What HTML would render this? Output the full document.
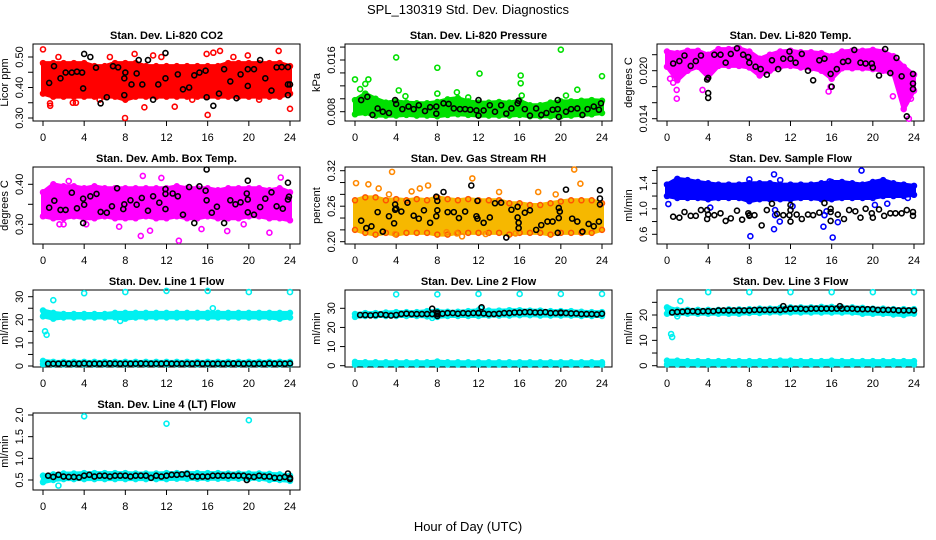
<!DOCTYPE html>
<html><head><meta charset="utf-8">
<style>
html,body{margin:0;padding:0;background:#fff;}
svg{display:block;font-family:"Liberation Sans",sans-serif;}
</style></head>
<body>
<svg id="chart" width="936" height="540" viewBox="0 0 936 540">
<text x="468" y="14" text-anchor="middle" font-size="13">SPL_130319  Std. Dev. Diagnostics</text>
<text x="468" y="531" text-anchor="middle" font-size="13">Hour of Day (UTC)</text>
</svg>
<script>
// ---------- DATA ----------
const bandHours=[0,1,2,3,4,5,6,7,8,9,10,11,12,13,14,15,16,17,18,19,20,21,22,23,24];
const xTicks=[0,4,8,12,16,20,24];
const flowHours=[0.5,1,1.5,2,2.5,3,3.5,4,4.5,5,5.5,6,6.5,7,7.5,8,8.5,9,9.5,10,10.5,11,11.5,12,12.5,13,13.5,14,14.5,15,15.5,16,16.5,17,17.5,18,18.5,19,19.5,20,20.5,21,21.5,22,22.5,23,23.5,24];

// P1 CO2
const co2Lo=[0.38,0.37,0.37,0.37,0.37,0.37,0.37,0.37,0.36,0.37,0.37,0.37,0.37,0.37,0.37,0.37,0.37,0.37,0.37,0.37,0.37,0.37,0.37,0.37,0.38];
const co2Hi=[0.48,0.48,0.48,0.48,0.48,0.47,0.47,0.48,0.48,0.48,0.47,0.47,0.47,0.47,0.47,0.47,0.47,0.47,0.48,0.48,0.48,0.48,0.48,0.48,0.47];
const co2OutH=[0,0.68,0.7,2.9,9.85,12.8,7.97,16.55,17.2,16,22.9,24,19.9,15.9,10.7,8.9,3.2,5.5,14.5,21,1.5,11.5,18.5,6.5];
const co2OutV=[0.525,0.348,0.34,0.35,0.335,0.337,0.30,0.514,0.52,0.31,0.52,0.33,0.505,0.51,0.505,0.51,0.35,0.36,0.36,0.36,0.50,0.50,0.50,0.50];
const co2BlkH=[0.6,1.07,1.7,2.2,2.8,3.3,3.8,3.9,4.0,4.6,5.15,5.6,6.2,6.8,7.3,7.9,7.9,8.0,8.6,9.1,9.3,9.65,10.2,10.7,11.2,11.9,11.9,13.1,13.6,14.2,14.7,15.2,15.8,15.9,16.55,17.1,17.6,18.2,18.8,19.2,19.9,19.9,20.5,21.1,21.6,22.2,22.7,23.2,23.8,23.8,24,23.8];
const co2BlkV=[0.415,0.47,0.43,0.449,0.449,0.452,0.449,0.397,0.51,0.50,0.465,0.348,0.368,0.47,0.466,0.43,0.375,0.449,0.41,0.446,0.49,0.41,0.49,0.36,0.41,0.513,0.43,0.443,0.394,0.40,0.44,0.449,0.455,0.368,0.34,0.38,0.46,0.42,0.365,0.443,0.46,0.405,0.46,0.49,0.43,0.39,0.466,0.467,0.467,0.41,0.41,0.375];

// P2 Pressure
const presLo=[0.0076,0.0078,0.0074,0.0074,0.0074,0.0075,0.0074,0.0074,0.0073,0.0075,0.0076,0.0075,0.0074,0.0074,0.0074,0.0074,0.0075,0.0073,0.0073,0.0073,0.0073,0.0074,0.0075,0.0076,0.0078];
const presHi=[0.0098,0.0108,0.0100,0.0094,0.0096,0.0094,0.0093,0.0093,0.0095,0.0099,0.0101,0.0096,0.0094,0.0094,0.0095,0.0094,0.0097,0.0090,0.0090,0.0094,0.0096,0.0096,0.0097,0.0098,0.0097];
const presOutH=[0,0.5,1.0,1.3,4.0,4.25,4.9,8.0,8.0,12.1,16.1,16.1,16.2,20,20.5,21.6,24,9.9,11.0];
const presOutV=[0.0130,0.0115,0.0123,0.0130,0.0164,0.0113,0.0104,0.0148,0.0108,0.0139,0.0136,0.0124,0.0105,0.0176,0.0105,0.0114,0.0135,0.0110,0.0102];
const presBlkH=[0.6,1.2,1.7,2.2,2.7,3.3,3.9,4.0,4.6,5.2,5.7,6.2,6.8,7.3,7.9,7.9,8.6,9.1,9.6,10.2,10.7,11.2,11.8,12,12,12.5,13.1,13.6,14.2,14.7,15.2,15.8,15.9,16.5,17.0,17.6,18.1,18.6,19.2,19.7,19.7,19.8,20.5,21.0,21.6,22.1,22.6,23.2,23.7,23.9];
const presBlkV=[0.0098,0.0103,0.0075,0.0085,0.0080,0.0078,0.0098,0.0092,0.0084,0.0088,0.0084,0.0090,0.0081,0.0087,0.0088,0.0077,0.0093,0.0092,0.0085,0.0084,0.0084,0.0083,0.0082,0.0098,0.0074,0.0082,0.0090,0.0080,0.0090,0.0077,0.0085,0.0093,0.0097,0.0084,0.0074,0.0085,0.0075,0.0078,0.0083,0.0098,0.0084,0.0072,0.0080,0.0084,0.0085,0.0075,0.0084,0.0088,0.0083,0.0093];

// P3 Li-820 Temp
const tempLo=[0.0205,0.0188,0.0200,0.0205,0.0192,0.0206,0.0206,0.0206,0.0204,0.0194,0.0200,0.0205,0.0206,0.0204,0.0203,0.0200,0.0190,0.0203,0.0203,0.0203,0.0202,0.0200,0.0196,0.0152,0.0175];
const tempHi=[0.0224,0.0222,0.0225,0.0225,0.0220,0.0227,0.0227,0.0228,0.0224,0.0215,0.0220,0.0224,0.0225,0.0223,0.0223,0.0222,0.0218,0.0224,0.0225,0.0225,0.0226,0.0224,0.0218,0.0205,0.0195];
const tempOutH=[0.94,0.95,3.45,15.7,15.9,21.95,23.5,23.2,23.7,0.3,0.6];
const tempOutV=[0.0176,0.0165,0.0176,0.0174,0.0180,0.0168,0.0140,0.0160,0.0165,0.0190,0.0185];
const tempBlkH=[0.6,1.2,1.7,2.3,2.8,3.3,3.9,4.0,4.0,4.0,4.6,5.2,5.7,6.2,6.8,7.4,7.9,8.0,8.6,9.1,9.7,10.2,10.8,11.3,11.9,12.0,12.5,13.1,13.7,14.2,14.8,15.3,15.9,16.0,16.5,17.1,17.6,18.2,18.8,19.3,19.9,20,20.6,21.2,21.7,22.3,22.8,23.3,23.9,23.9,23.9];
const tempBlkV=[0.0209,0.0212,0.0219,0.0206,0.0212,0.0219,0.0189,0.0191,0.0172,0.0166,0.0220,0.0220,0.0210,0.0221,0.0228,0.0220,0.0217,0.0210,0.0205,0.0202,0.0195,0.0213,0.0202,0.0215,0.0224,0.0215,0.0210,0.0221,0.0200,0.0188,0.0213,0.0215,0.0196,0.0180,0.0202,0.0211,0.0212,0.0226,0.0210,0.0209,0.0209,0.0204,0.0194,0.0227,0.0197,0.0216,0.0193,0.0143,0.0196,0.0184,0.0177];

// P4 Amb Box Temp
const ambLo=[0.32,0.315,0.315,0.32,0.315,0.315,0.32,0.315,0.315,0.315,0.32,0.315,0.315,0.32,0.315,0.315,0.32,0.315,0.315,0.315,0.32,0.32,0.315,0.315,0.31];
const ambHi=[0.38,0.40,0.395,0.395,0.39,0.395,0.39,0.39,0.39,0.39,0.39,0.39,0.39,0.395,0.39,0.39,0.39,0.385,0.39,0.39,0.39,0.39,0.385,0.39,0.38];
const ambOutH=[2.5,9.7,11.5,9.5,13.2,22.0,23.1,17.9,15.4,10.4,7.4,1.6,2.0,4.2,19.5];
const ambOutV=[0.408,0.421,0.416,0.271,0.259,0.279,0.417,0.283,0.288,0.284,0.294,0.30,0.30,0.30,0.30];
const ambBlkH=[0.6,1.1,1.7,2.2,2.8,3.3,3.9,3.9,4.0,4.6,5.2,5.6,6.2,6.7,7.2,7.8,7.9,8.5,9.1,9.6,10.2,10.7,11.3,11.9,11.9,11.9,12.6,13.1,13.6,14.2,14.7,15.2,15.8,15.9,15.9,16.4,16.9,17.6,18.2,18.7,19.2,19.8,19.9,19.9,19.9,20.5,21.1,21.6,22.2,22.7,23.3,23.8,23.8,23.9];
const ambBlkV=[0.3415,0.359,0.336,0.336,0.379,0.34,0.303,0.364,0.349,0.37,0.376,0.331,0.329,0.345,0.39,0.338,0.35,0.36,0.349,0.366,0.334,0.37,0.354,0.338,0.376,0.388,0.377,0.37,0.324,0.393,0.303,0.395,0.384,0.437,0.36,0.329,0.344,0.303,0.36,0.35,0.355,0.377,0.362,0.409,0.33,0.324,0.343,0.364,0.38,0.345,0.339,0.362,0.404,0.369];

// P5 Gas Stream RH
const rhLo=[0.22,0.215,0.212,0.215,0.212,0.215,0.215,0.215,0.212,0.212,0.215,0.215,0.215,0.215,0.215,0.212,0.215,0.215,0.215,0.212,0.215,0.215,0.215,0.215,0.22];
const rhHi=[0.27,0.275,0.275,0.27,0.272,0.27,0.272,0.27,0.275,0.272,0.27,0.272,0.27,0.27,0.27,0.265,0.265,0.262,0.262,0.265,0.268,0.27,0.27,0.27,0.265];
const rhOutH=[0.1,3.6,1.3,7.1,11.4,21.3,21.9,14.0,17.8,2.3,3.3,10.4,12.7,15.6,9.9,3.9,8.9,5.5,19.5,6.3];
const rhOutV=[0.299,0.318,0.297,0.295,0.307,0.322,0.298,0.284,0.284,0.29,0.28,0.209,0.213,0.214,0.214,0.213,0.216,0.285,0.28,0.29];
const rhBlkH=[0.6,1.1,1.6,2.2,2.7,3.3,3.8,3.9,3.9,4.0,4.5,5.1,5.7,6.2,6.7,7.3,7.9,7.9,8.0,8.0,8.6,9.0,9.6,10.1,10.7,11.3,11.9,11.8,11.9,12.5,13.1,13.6,14.2,14.7,15.2,15.8,15.8,15.9,15.9,16.5,17.0,17.6,18.1,18.7,19.2,19.8,19.7,19.8,19.9,20.5,21.1,21.6,22.1,22.7,23.2,23.7,23.8,23.8,23.8];
const rhBlkV=[0.2355,0.223,0.226,0.25,0.217,0.243,0.231,0.263,0.254,0.256,0.251,0.266,0.244,0.239,0.253,0.232,0.243,0.276,0.269,0.253,0.284,0.25,0.25,0.24,0.251,0.295,0.269,0.243,0.239,0.232,0.241,0.265,0.266,0.207,0.254,0.259,0.241,0.232,0.223,0.249,0.253,0.22,0.228,0.234,0.234,0.24,0.215,0.257,0.251,0.288,0.239,0.234,0.217,0.23,0.226,0.234,0.263,0.273,0.287];

// P6 Sample Flow
const sfLo=[1.2,1.17,1.17,1.17,1.15,1.17,1.17,1.17,1.12,1.15,1.15,1.15,1.15,1.17,1.17,1.15,1.15,1.17,1.17,1.17,1.17,1.2,1.2,1.2,1.22];
const sfHi=[1.38,1.47,1.45,1.42,1.40,1.38,1.38,1.38,1.40,1.40,1.40,1.38,1.38,1.38,1.38,1.40,1.42,1.42,1.40,1.38,1.42,1.45,1.40,1.38,1.36];
const sfOutH=[0.13,4.2,8.0,10.4,10.4,11.0,10.96,8.1,12.2,15.2,15.3,15.5,16.1,16.6,18.9,20.2,21.4,23.4,15.8,10.5,10.5];
const sfOutV=[1.075,1.02,1.46,1.54,0.68,1.45,0.80,0.57,1.04,0.72,0.90,0.96,0.55,0.79,1.60,1.06,1.08,1.17,1.43,0.98,0.90];
const sfBlkH=[0.6,1.2,1.7,2.3,2.8,3.3,3.9,3.9,4.0,4.6,5.2,5.7,6.2,6.8,7.3,7.9,8.0,8.0,8.5,9.2,9.7,10.2,10.7,11.3,11.9,12,12,12,12.6,13.1,13.7,14.2,14.8,15.3,15.9,15.9,15.9,16.6,17.2,17.7,18.3,18.8,19.3,19.9,20.0,20.6,21.1,21.7,22.2,22.8,23.3,23.9,23.9];
const sfBlkV=[0.876,0.86,0.95,0.89,0.89,0.98,0.98,0.84,0.91,0.90,0.93,0.81,0.85,0.97,0.83,0.93,0.90,0.89,0.90,0.74,0.98,1.08,0.92,0.90,0.90,0.98,1.06,0.80,0.91,0.84,0.91,0.90,0.94,1.09,0.95,1.00,0.81,0.91,0.84,0.98,0.96,0.86,1.00,0.93,0.86,0.99,0.89,0.93,0.93,0.93,0.98,0.95,0.89];

// P7 Line 1 Flow
const l1Lo=[21.5,20.5,21,21,21,21,21,21,20.5,21,21,21,21,21,21,21,21,21,21,21,21,21,21,20.5,21];
const l1Hi=[24,23,22.5,22.5,22.5,22.5,22.5,23,23,23,23,23,23,23,23,23,23,23,23,23,23,23,23,23,23];
const l1LowLo=[0.8,0.7,0.7,0.7,0.7,0.7,0.7,0.7,0.7,0.7,0.7,0.7,0.7,0.7,0.7,0.7,0.7,0.7,0.7,0.7,0.7,0.7,0.7,0.7,0.8];
const l1LowHi=[2.2,1.8,1.8,1.8,1.8,1.8,1.8,1.8,1.8,1.8,1.8,1.8,1.8,1.8,1.8,1.8,1.8,1.8,1.8,1.8,1.8,1.8,1.8,1.8,1.8];
const l1OutH=[0.2,0.35,1.0,4,8,12,16,20,24,16.5,7.5,16,0.1];
const l1OutV=[15,13.5,28.5,31.5,32,32.5,32.5,32,32,25,19.5,21,23.5];
const l1Blk=[1.0,1.0,1.0,1.1,1.0,1.0,1.0,1.1,1.0,1.0,1.0,1.0,1.1,1.0,1.0,1.0,1.0,1.0,1.1,1.0,1.0,1.0,1.0,1.1,1.0,1.0,1.0,1.0,1.0,1.1,1.0,1.0,1.0,1.0,1.0,1.0,1.1,1.0,1.0,1.0,1.0,1.0,1.0,1.1,1.0,1.0,1.0,1.1];

// P8 Line 2 Flow
const l2Lo=[25.5,26,26,26,26,26,26,25.8,25.5,26,26,26,26,26.2,26.2,26.2,26.4,26.4,26.2,26.2,26.2,26.2,26,26,26];
const l2Hi=[27,27.5,27.5,27.8,28,28,28,28.5,28.5,28.2,28.2,28.5,29,28.8,28.8,29,29,28.8,28.8,28.5,28.5,28.5,28.2,28,28];
const l2LowLo=[0.6,0.6,0.6,0.6,0.6,0.6,0.6,0.6,0.6,0.6,0.6,0.6,0.6,0.6,0.6,0.6,0.6,0.6,0.6,0.6,0.6,0.6,0.6,0.6,0.6];
const l2LowHi=[2.0,1.8,1.8,1.8,1.8,1.8,1.8,1.8,2.2,1.8,1.8,1.8,1.8,1.8,1.8,1.8,1.8,1.8,1.8,1.8,1.8,1.8,1.8,1.8,1.8];
const l2OutH=[4,8,12,16,20,24,7.5,12.2];
const l2OutV=[37.3,37.3,37.5,37.5,37.5,37.5,25,30];
const l2Blk=[26.5,26.5,26.3,26.5,26.8,26.5,26.2,26.5,27,27.2,27,27,27,27,27,27,27.2,27.5,27.5,27.2,27.5,27.3,27.5,27.5,27.3,27,27,27.2,27.5,27.5,27.8,27.8,28,28,27.8,27.8,28,27.5,27.5,27.5,27.5,27.3,27.3,27,27,27,26.8,27.2];
const l2ExH=[7.5,8,8,12.3,12,20];
const l2ExV=[29.8,26,27.8,30.5,27.5,27.8];

// P9 Line 3 Flow
const l3Lo=[20.5,20.5,20.5,20.5,20.5,20.5,20.5,20.5,20.8,20.8,21,21,21,21,21,21,21,21,21,20.5,20.5,20.5,20.2,20,20.5];
const l3Hi=[23,22,22,22,22,22,22.2,22.2,22.3,22.5,22.5,22.8,23,23,23,23.2,23.2,23,23,22.8,22.5,22.5,22.3,22.3,22.3];
const l3LowLo=[0.5,0.5,0.5,0.5,0.5,0.5,0.5,0.5,0.5,0.5,0.5,0.5,0.5,0.5,0.5,0.5,0.5,0.5,0.5,0.5,0.5,0.5,0.5,0.5,0.5];
const l3LowHi=[2.0,2.0,1.8,1.8,1.8,1.8,1.8,1.8,1.8,1.8,1.8,2.0,2.0,1.8,1.8,1.8,2.0,1.8,1.8,1.8,1.8,1.8,1.8,1.8,1.8];
const l3OutH=[4,8,12,16,20,24,1.3,0.4,0.5,0.2,1.0];
const l3OutV=[29,29,29,29,29,29,25.5,12.5,11.3,22.5,19.5];
const l3Blk=[21,21.2,21.3,21.5,21.5,21.3,21.5,21.5,21.5,21.8,21.8,21.8,21.8,21.8,21.8,21.8,22,22,22,22,22,22,22.2,22.5,22.5,22.5,22.3,22.5,22.5,22.5,22.5,22.5,22.5,22.5,22.5,22.5,22.3,22.3,22.3,22.3,22,22,22,22,21.8,21.8,21.8,21.8];
const l3ExH=[11.3,12,16.8];
const l3ExV=[23.5,22.5,23.5];

// P10 Line 4 (LT) Flow
const l4Lo=[0.45,0.5,0.52,0.52,0.52,0.52,0.52,0.52,0.52,0.52,0.52,0.52,0.52,0.53,0.53,0.53,0.53,0.53,0.53,0.53,0.53,0.53,0.5,0.5,0.48];
const l4Hi=[0.6,0.63,0.65,0.65,0.66,0.66,0.66,0.66,0.66,0.65,0.65,0.65,0.66,0.66,0.66,0.66,0.66,0.66,0.65,0.65,0.65,0.65,0.64,0.63,0.6];
const l4OutH=[4,12,20,1.5,0.1];
const l4OutV=[1.97,1.8,1.88,0.37,0.5];
const l4Blk=[0.6,0.57,0.62,0.58,0.57,0.57,0.56,0.6,0.62,0.58,0.6,0.6,0.58,0.6,0.6,0.6,0.58,0.6,0.6,0.6,0.55,0.6,0.58,0.6,0.62,0.62,0.63,0.64,0.58,0.58,0.58,0.58,0.6,0.6,0.6,0.6,0.6,0.6,0.6,0.58,0.57,0.6,0.58,0.58,0.55,0.55,0.57,0.55];
const l4ExH=[24,23.8,19.8];
const l4ExV=[0.52,0.65,0.5];

// ---------- LAYOUT ----------
const NS="http://www.w3.org/2000/svg";
const svg=document.getElementById('chart');
function el(tag,attrs,parent){const e=document.createElementNS(NS,tag);for(const k in attrs)e.setAttribute(k,attrs[k]);(parent||svg).appendChild(e);return e;}
function box(p){return {l:33+312*p.col,r:300+312*p.col,t:44+123*p.row,b:121+123*p.row};}
function xScale(p,h){return 43+312*p.col+h*247/24;}
function yScale(p,v){const b=box(p);const c=p.cal;return b.t+c[1]+(v-c[0])*(c[3]-c[1])/(c[2]-c[0]);}

const panels=[
 {key:'co2',col:0,row:0,title:'Stan. Dev. Li-820 CO2',ylab:'Licor ppm',cal:[0.30,74,0.50,13],ticks:[0.30,0.35,0.40,0.45,0.50],labels:['0.30','','0.40','','0.50']},
 {key:'pres',col:1,row:0,title:'Stan. Dev. Li-820 Pressure',ylab:'kPa',cal:[0.008,67.7,0.016,16],ticks:[0.008,0.010,0.012,0.014,0.016,0.018],labels:['0.008','','','','0.016','']},
 {key:'temp',col:2,row:0,title:'Stan. Dev. Li-820 Temp.',ylab:'degrees C',cal:[0.014,74.7,0.020,26.7],ticks:[0.014,0.016,0.018,0.020,0.022],labels:['0.014','','','0.020','']},
 {key:'amb',col:0,row:1,title:'Stan. Dev. Amb. Box Temp.',ylab:'degrees C',cal:[0.30,57.3,0.40,17.3],ticks:[0.30,0.35,0.40],labels:['0.30','','0.40']},
 {key:'rh',col:1,row:1,title:'Stan. Dev. Gas Stream RH',ylab:'percent',cal:[0.20,74.7,0.32,3.7],ticks:[0.20,0.22,0.24,0.26,0.28,0.30,0.32],labels:['0.20','','','0.26','','','0.32']},
 {key:'sf',col:2,row:1,title:'Stan. Dev. Sample Flow',ylab:'ml/min',cal:[0.6,67.3,1.4,16.3],ticks:[0.6,0.8,1.0,1.2,1.4,1.6],labels:['0.6','','1.0','','1.4','']},
 {key:'l1',col:0,row:2,title:'Stan. Dev. Line 1 Flow',ylab:'ml/min',cal:[0,76,30,6.7],ticks:[0,5,10,15,20,25,30],labels:['0','','10','','20','','30']},
 {key:'l2',col:1,row:2,title:'Stan. Dev. Line 2 Flow',ylab:'ml/min',cal:[0,75.7,30,18.3],ticks:[0,10,20,30],labels:['0','10','20','30']},
 {key:'l3',col:2,row:2,title:'Stan. Dev. Line 3 Flow',ylab:'ml/min',cal:[0,75.7,20,25],ticks:[0,5,10,15,20,25],labels:['0','','10','','20','']},
 {key:'l4',col:0,row:3,title:'Stan. Dev. Line 4 (LT) Flow',ylab:'ml/min',cal:[0.5,67,2.0,2],ticks:[0.5,1.0,1.5,2.0],labels:['0.5','1.0','1.5','2.0']}
];

function drawFrame(p){
  const b=box(p);
  const g=el('g',{});
  
  
  const t=el('text',{x:(b.l+b.r)/2,y:b.t-5,'text-anchor':'middle','font-size':11,'font-weight':'bold'},g);
  t.textContent=p.title;
  
  
  const r=el('rect',{x:b.l,y:b.t,width:b.r-b.l,height:b.b-b.t,fill:'none',stroke:'#000','stroke-width':1},g);
  
  
  xTicks.forEach(h=>{
    const x=xScale(p,h);
    el('line',{x1:x,y1:b.b,x2:x,y2:b.b+5,stroke:'#000'},g);
    const tx=el('text',{x:x,y:b.b+20,'text-anchor':'middle','font-size':11},g);
    tx.textContent=h;
    
    
  });
  p.ticks.forEach((v,i)=>{
    const y=yScale(p,v);
    el('line',{x1:b.l-5,y1:y,x2:b.l,y2:y,stroke:'#000'},g);
    if(p.labels[i]){
      const tx=el('text',{x:b.l-10,y:y,'text-anchor':'middle','font-size':11,transform:`rotate(-90 ${b.l-10} ${y})`},g);
      tx.textContent=p.labels[i];
      
      
    }
  });
  const yl=el('text',{x:b.l-25,y:(b.t+b.b)/2,'text-anchor':'middle','font-size':11,transform:`rotate(-90 ${b.l-25} ${(b.t+b.b)/2})`},g);
  yl.textContent=p.ylab;
  
  
  return g;
}
function band(p,g,lo,hi,fill,ring){
  let pts=[];
  bandHours.forEach((h,i)=>pts.push(xScale(p,h)+','+yScale(p,hi[i])));
  for(let i=bandHours.length-1;i>=0;i--)pts.push(xScale(p,bandHours[i])+','+yScale(p,lo[i]));
  const poly=el('polygon',{points:pts.join(' '),fill:fill,stroke:fill,'stroke-width':4,'stroke-linejoin':'round'},g);
  
  
  bandHours.forEach((h,i)=>{
    [hi[i],lo[i]].forEach(v=>{
      const c=el('circle',{cx:xScale(p,h),cy:yScale(p,v),r:2.5,fill:'none',stroke:ring,'stroke-width':1.5},g);
      
      
    });
  });
}
function pts(p,g,hs,vs,color){
  hs.forEach((h,i)=>{
    const c=el('circle',{cx:xScale(p,h),cy:yScale(p,vs[i]),r:2.5,fill:'none',stroke:color,'stroke-width':1.6},g);
    
    
  });
}
const P={};panels.forEach(p=>P[p.key]=p);
const G={};panels.forEach(p=>G[p.key]=drawFrame(p));
const CY='#00f0f0';
band(P.co2,G.co2,co2Lo,co2Hi,'#ff0000','#ff0000'); pts(P.co2,G.co2,co2OutH,co2OutV,'#ff0000'); pts(P.co2,G.co2,co2BlkH,co2BlkV,'#000');
band(P.pres,G.pres,presLo,presHi,'#00e000','#00e000'); pts(P.pres,G.pres,presOutH,presOutV,'#00e000'); pts(P.pres,G.pres,presBlkH,presBlkV,'#000');
band(P.temp,G.temp,tempLo,tempHi,'#ff00ff','#ff00ff'); pts(P.temp,G.temp,tempOutH,tempOutV,'#ff00ff'); pts(P.temp,G.temp,tempBlkH,tempBlkV,'#000');
band(P.amb,G.amb,ambLo,ambHi,'#ff00ff','#ff00ff'); pts(P.amb,G.amb,ambOutH,ambOutV,'#ff00ff'); pts(P.amb,G.amb,ambBlkH,ambBlkV,'#000');
band(P.rh,G.rh,rhLo,rhHi,'#f6b800','#ff5500'); pts(P.rh,G.rh,rhOutH,rhOutV,'#ff8800'); pts(P.rh,G.rh,rhBlkH,rhBlkV,'#000');
band(P.sf,G.sf,sfLo,sfHi,'#0000ff','#0000ff'); pts(P.sf,G.sf,sfOutH,sfOutV,'#0000ff'); pts(P.sf,G.sf,sfBlkH,sfBlkV,'#000');
band(P.l1,G.l1,l1Lo,l1Hi,CY,CY); band(P.l1,G.l1,l1LowLo,l1LowHi,CY,CY); pts(P.l1,G.l1,l1OutH,l1OutV,CY); pts(P.l1,G.l1,flowHours,l1Blk,'#000');
band(P.l2,G.l2,l2Lo,l2Hi,CY,CY); band(P.l2,G.l2,l2LowLo,l2LowHi,CY,CY); pts(P.l2,G.l2,l2OutH,l2OutV,CY); pts(P.l2,G.l2,flowHours,l2Blk,'#000'); pts(P.l2,G.l2,l2ExH,l2ExV,'#000');
band(P.l3,G.l3,l3Lo,l3Hi,CY,CY); band(P.l3,G.l3,l3LowLo,l3LowHi,CY,CY); pts(P.l3,G.l3,l3OutH,l3OutV,CY); pts(P.l3,G.l3,flowHours,l3Blk,'#000'); pts(P.l3,G.l3,l3ExH,l3ExV,'#000');
band(P.l4,G.l4,l4Lo,l4Hi,CY,CY); pts(P.l4,G.l4,l4OutH,l4OutV,CY); pts(P.l4,G.l4,flowHours,l4Blk,'#000'); pts(P.l4,G.l4,l4ExH,l4ExV,'#000');
</script>
</body></html>
